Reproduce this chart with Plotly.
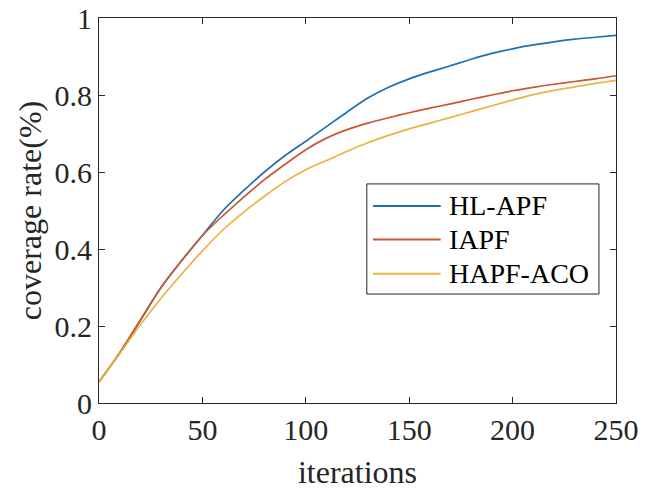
import plotly.graph_objects as go

# ---- data ----
iterations = [0, 10, 20, 30, 40, 50, 60, 70, 80, 90, 100, 110, 120, 130, 140,
              150, 160, 170, 180, 190, 200, 210, 220, 230, 240, 250]
hl_apf = [0.055, 0.130, 0.215, 0.300, 0.370, 0.435, 0.500, 0.552, 0.600, 0.643,
          0.680, 0.718, 0.756, 0.792, 0.820, 0.842, 0.860, 0.876, 0.893, 0.908,
          0.920, 0.930, 0.938, 0.945, 0.950, 0.955]
iapf = [0.055, 0.130, 0.215, 0.300, 0.370, 0.435, 0.487, 0.535, 0.580, 0.620,
        0.658, 0.688, 0.710, 0.727, 0.741, 0.754, 0.766, 0.777, 0.789, 0.800,
        0.811, 0.820, 0.828, 0.835, 0.842, 0.850]
hapf_aco = [0.055, 0.128, 0.203, 0.272, 0.335, 0.395, 0.450, 0.496, 0.537, 0.575,
            0.606, 0.630, 0.654, 0.676, 0.695, 0.712, 0.727, 0.742, 0.757, 0.772,
            0.787, 0.801, 0.812, 0.821, 0.830, 0.838]
series_names = ["HL-APF", "IAPF", "HAPF-ACO"]
x_ticks = [0, 50, 100, 150, 200, 250]
y_ticks = [0, 0.2, 0.4, 0.6, 0.8, 1]
y_ticklabels = ["0", "0.2", "0.4", "0.6", "0.8", "1"]
x_title = "iterations"
y_title = "coverage rate(%)"

colors = ["#1F70B2", "#CC5533", "#E9B340"]
FONT = "Liberation Serif"
AX = "#262626"

fig = go.Figure()
for name, ys, c in zip(series_names, [hl_apf, iapf, hapf_aco], colors):
    fig.add_trace(go.Scatter(x=iterations, y=ys, mode="lines", name=name,
                             line=dict(color=c, width=1.7, shape="spline", smoothing=0.8),
                             showlegend=False))

axis_common = dict(showline=True, linecolor=AX, linewidth=1, mirror="ticks",
                   ticks="inside", ticklen=6, tickwidth=1, tickcolor=AX,
                   showgrid=False, zeroline=False, automargin=False,
                   tickfont=dict(family=FONT, size=30, color=AX))

fig.update_xaxes(range=[0, 250], tickvals=x_ticks, ticktext=[str(v) for v in x_ticks],
                 title=dict(text=x_title, font=dict(family=FONT, size=32, color=AX)),
                 **axis_common)
fig.update_yaxes(range=[0, 1], tickvals=y_ticks, ticktext=y_ticklabels,
                 title=dict(text=y_title, font=dict(family=FONT, size=32, color=AX), standoff=3),
                 **axis_common)

# ---- legend (MATLAB-style box) ----
fig.add_shape(type="rect", xref="paper", yref="paper", x0=0.518, x1=0.967, y0=0.283, y1=0.569,
              line=dict(color=AX, width=1), fillcolor="white")
row_y = [0.512, 0.425, 0.336]
for name, c, yy in zip(series_names, colors, row_y):
    fig.add_shape(type="line", xref="paper", yref="paper", x0=0.530, x1=0.661, y0=yy, y1=yy,
                  line=dict(color=c, width=2))
    fig.add_annotation(xref="paper", yref="paper", x=0.673, y=yy, text=name, showarrow=False,
                       xanchor="left", yanchor="middle",
                       font=dict(family=FONT, size=28, color="#000000"))

fig.update_layout(width=655, height=491, margin=dict(l=99, r=39, t=18, b=88, autoexpand=False),
                  paper_bgcolor="white", plot_bgcolor="white",
                  font=dict(family=FONT, color=AX))

fig.write_html("out.html")
